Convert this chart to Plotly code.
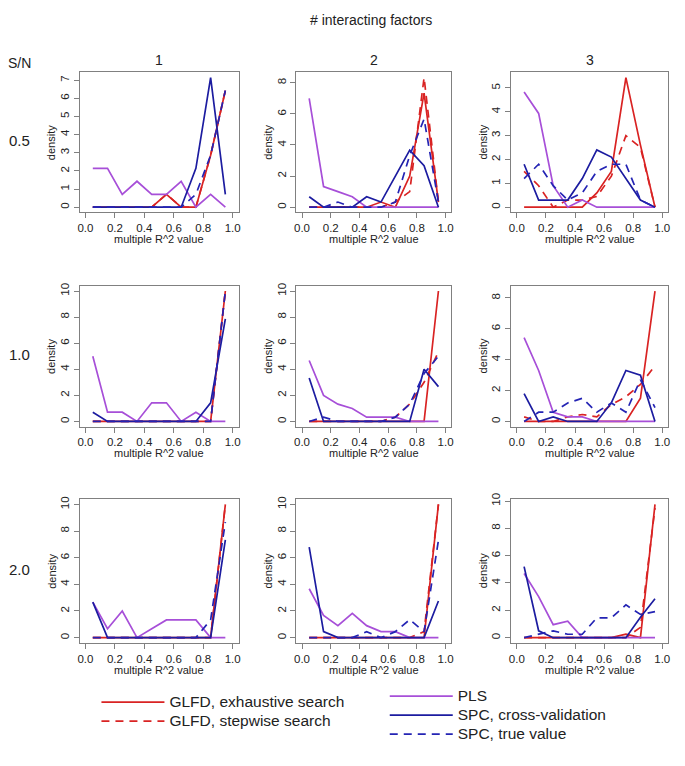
import plotly.graph_objects as go

W, H = 685, 766

# ---------------- data ----------------
x_mid = [0.05, 0.15, 0.25, 0.35, 0.45, 0.55, 0.65, 0.75, 0.85, 0.95]
x_tick_vals = [0.0, 0.2, 0.4, 0.6, 0.8, 1.0]
x_tick_text = ["0.0", "0.2", "0.4", "0.6", "0.8", "1.0"]
sn_labels = ["0.5", "1.0", "2.0"]
factor_labels = ["1", "2", "3"]
method_names = ["GLFD, exhaustive search", "GLFD, stepwise search", "PLS",
                "SPC, cross-validation", "SPC, true value"]

# each list: [row (S/N)][col (# factors)] -> density per bin
glfd_exhaustive = [
    [[0, 0, 0, 0, 0, 0.71, 0, 0, 2.86, 6.43],
     [0, 0, 0, 0, 0, 0.33, 0, 2.0, 7.33, 0.33],
     [0, 0, 0, 0, 0, 0.6, 1.5, 5.43, 2.6, 0]],
    [[0, 0, 0, 0, 0, 0, 0, 0, 0, 10.0],
     [0, 0, 0, 0, 0, 0, 0, 0, 0, 10.0],
     [0, 0, 0, 0, 0, 0, 0, 0, 1.5, 8.45]],
    [[0, 0, 0, 0, 0, 0, 0, 0, 0, 10.0],
     [0, 0, 0, 0, 0, 0, 0, 0, 0, 10.0],
     [0, 0, 0, 0, 0, 0, 0, 0.25, 0, 9.75]],
]
glfd_stepwise = [
    [[0, 0, 0, 0, 0, 0.71, 0, 0, 2.86, 6.43],
     [0, 0, 0, 0, 0, 0, 0.33, 1.0, 8.33, 0.33],
     [1.5, 0.9, 0, 0.3, 0.3, 0.45, 1.3, 3.0, 2.5, 0]],
    [[0, 0, 0, 0, 0, 0, 0, 0, 0, 10.0],
     [0, 0, 0, 0, 0, 0, 0.33, 1.33, 3.0, 5.33],
     [0.3, 0, 0, 0.3, 0.45, 0.3, 1.1, 1.6, 2.4, 3.6]],
    [[0, 0, 0, 0, 0, 0, 0, 0, 0, 10.0],
     [0, 0, 0, 0, 0, 0, 0, 0, 0.45, 10.0],
     [0, 0, 0, 0, 0, 0, 0, 0, 0.75, 9.5]],
]
pls = [
    [[2.14, 2.14, 0.71, 1.43, 0.71, 0.71, 1.43, 0, 0.71, 0],
     [7.0, 1.33, 1.0, 0.67, 0, 0, 0, 0, 0, 0],
     [4.83, 3.93, 0.9, 0, 0.3, 0, 0, 0, 0, 0]],
    [[5.0, 0.71, 0.71, 0, 1.43, 1.43, 0, 0.71, 0, 0],
     [4.67, 2.0, 1.33, 1.0, 0.33, 0.33, 0.33, 0, 0, 0],
     [5.43, 3.3, 0.6, 0.3, 0.3, 0, 0, 0, 0, 0]],
    [[2.67, 0.67, 2.0, 0, 0.67, 1.33, 1.33, 1.33, 0, 0],
     [3.67, 1.67, 0.9, 1.83, 0.9, 0.45, 0.45, 0, 0, 0],
     [4.7, 3.0, 0.95, 1.2, 0, 0, 0, 0, 0, 0]],
]
spc_cv = [
    [[0, 0, 0, 0, 0, 0, 0, 2.14, 7.14, 0.71],
     [0.67, 0, 0, 0, 0.67, 0.33, 2.0, 3.67, 2.67, 0],
     [1.8, 0.3, 0.3, 0.3, 1.2, 2.4, 2.1, 1.2, 0.3, 0]],
    [[0.71, 0, 0, 0, 0, 0, 0, 0, 1.43, 7.86],
     [3.33, 0, 0, 0, 0, 0, 0, 0, 4.0, 2.67],
     [1.8, 0, 0.3, 0, 0, 0, 1.2, 3.3, 3.0, 0]],
    [[2.67, 0, 0, 0, 0, 0, 0, 0, 0, 7.33],
     [6.8, 0.45, 0, 0, 0, 0, 0, 0, 0, 2.75],
     [5.2, 0.5, 0, 0, 0, 0, 0, 0, 1.5, 2.85]],
]
spc_true = [
    [[0, 0, 0, 0, 0, 0, 0, 0.71, 2.86, 6.43],
     [0, 0, 0.33, 0, 0, 0, 0.33, 3.33, 5.67, 0.33],
     [1.2, 1.8, 0.9, 0.3, 0.6, 1.5, 1.8, 1.8, 0.3, 0]],
    [[0, 0, 0, 0, 0, 0, 0, 0, 0, 10.0],
     [0, 0.33, 0, 0, 0, 0, 0.33, 1.33, 3.67, 5.0],
     [0, 0.6, 0.6, 1.2, 1.5, 0.6, 1.2, 0.6, 2.7, 0.9]],
    [[0, 0, 0, 0, 0, 0, 0, 0, 1.33, 8.67],
     [0, 0, 0, 0, 0.45, 0, 0.45, 1.35, 0.45, 7.3],
     [0, 0.25, 0.5, 0.25, 0.25, 1.45, 1.45, 2.4, 1.7, 1.9]],
]
series = [glfd_exhaustive, glfd_stepwise, pls, spc_cv, spc_true]

# ---------------- styling ----------------
RED = "#d92323"
PURPLE = "#a74fd8"
NAVY = "#1c1ca0"
BLUE = "#2424b4"
styles = [
    dict(color=RED, dash="solid", legend="legend"),
    dict(color=RED, dash="8px,6px", legend="legend"),
    dict(color=PURPLE, dash="solid", legend="legend2"),
    dict(color=NAVY, dash="solid", legend="legend2"),
    dict(color=BLUE, dash="8px,6px", legend="legend2"),
]
FONT = "Liberation Sans, Arial, Helvetica, sans-serif"
AXIS_GRAY = "#808080"

col_px = [(78, 238), (296, 452), (512, 670)]
row_px = [(67, 208), (282, 424), (497, 642)]


def px_x(p):
    return p / W


def px_y(p):
    return 1 - p / H


fig = go.Figure()
annotations = []

for r in range(3):
    for c in range(3):
        k = r * 3 + c + 1
        xa = "x" if k == 1 else f"x{k}"
        ya = "y" if k == 1 else f"y{k}"
        for m, (name, data, st) in enumerate(zip(method_names, series, styles)):
            fig.add_trace(go.Scatter(
                x=x_mid, y=data[r][c], mode="lines",
                name=f"<span style='font-size:15.5px'>{name}</span>",
                line=dict(color=st["color"], dash=st["dash"], width=1.7),
                xaxis=xa, yaxis=ya,
                showlegend=(k == 1), legend=st["legend"],
                hoverinfo="skip",
            ))
        ymax = max(max(d[r][c]) for d in series)
        dt = 1 if ymax < 8 else 2
        xd = [px_x(col_px[c][0]), px_x(col_px[c][1])]
        yd = [px_y(row_px[r][1]), px_y(row_px[r][0])]
        common = dict(showline=True, mirror=True, linecolor=AXIS_GRAY, linewidth=1,
                      ticks="outside", ticklen=5, tickcolor=AXIS_GRAY,
                      showgrid=False, zeroline=False,
                      tickfont=dict(family=FONT, size=11.5, color="#222"))
        fig.layout[f"xaxis{'' if k == 1 else k}"] = dict(
            domain=xd, anchor=ya, range=[-0.04, 1.04],
            tickvals=x_tick_vals, ticktext=x_tick_text, **common)
        fig.layout[f"yaxis{'' if k == 1 else k}"] = dict(
            domain=yd, anchor=xa, range=[-0.04 * ymax, 1.04 * ymax],
            tick0=0, dtick=dt, tickangle=-90, **common)
        # axis titles
        cx = (col_px[c][0] + col_px[c][1]) / 2
        cy = (row_px[r][0] + row_px[r][1]) / 2
        annotations.append(dict(
            text="multiple R^2 value", x=px_x(cx), y=px_y(row_px[r][1] + 27),
            xref="paper", yref="paper", showarrow=False,
            xanchor="center", yanchor="middle",
            font=dict(family=FONT, size=11, color="#222")))
        annotations.append(dict(
            text="density", x=px_x(col_px[c][0] - 28), y=px_y(cy),
            xref="paper", yref="paper", showarrow=False, textangle=-90,
            xanchor="center", yanchor="middle",
            font=dict(family=FONT, size=11, color="#222")))

# column & row headers
annotations.append(dict(text="# interacting factors", x=px_x(371), y=px_y(14),
                        xref="paper", yref="paper", showarrow=False,
                        xanchor="center", yanchor="middle",
                        font=dict(family=FONT, size=14, color="#222")))
annotations.append(dict(text="S/N", x=px_x(18), y=px_y(57),
                        xref="paper", yref="paper", showarrow=False,
                        xanchor="center", yanchor="middle",
                        font=dict(family=FONT, size=14, color="#222")))
for c, lab in enumerate(factor_labels):
    cx = (col_px[c][0] + col_px[c][1]) / 2
    annotations.append(dict(text=lab, x=px_x(cx), y=px_y(54),
                            xref="paper", yref="paper", showarrow=False,
                            xanchor="center", yanchor="middle",
                            font=dict(family=FONT, size=14, color="#222")))
for r, lab in enumerate(sn_labels):
    cy = (row_px[r][0] + row_px[r][1]) / 2
    annotations.append(dict(text=lab, x=px_x(18), y=px_y(cy - 2),
                            xref="paper", yref="paper", showarrow=False,
                            xanchor="center", yanchor="middle",
                            font=dict(family=FONT, size=15, color="#222")))

legend_common = dict(xanchor="left", yanchor="top", bgcolor="rgba(0,0,0,0)",
                     font=dict(family=FONT, size=12, color="#222"),
                     itemwidth=63, tracegroupgap=0, itemclick=False,
                     itemdoubleclick=False)
fig.update_layout(
    width=W, height=H,
    margin=dict(l=0, r=0, t=0, b=0),
    paper_bgcolor="white", plot_bgcolor="white",
    annotations=annotations,
    legend=dict(x=px_x(95), y=px_y(687), **legend_common),
    legend2=dict(x=px_x(385), y=px_y(681), **legend_common),
)

fig.write_html("out.html",
               config={"displayModeBar": False},
               post_script="document.body.style.margin='0';document.body.style.overflow='hidden';")
